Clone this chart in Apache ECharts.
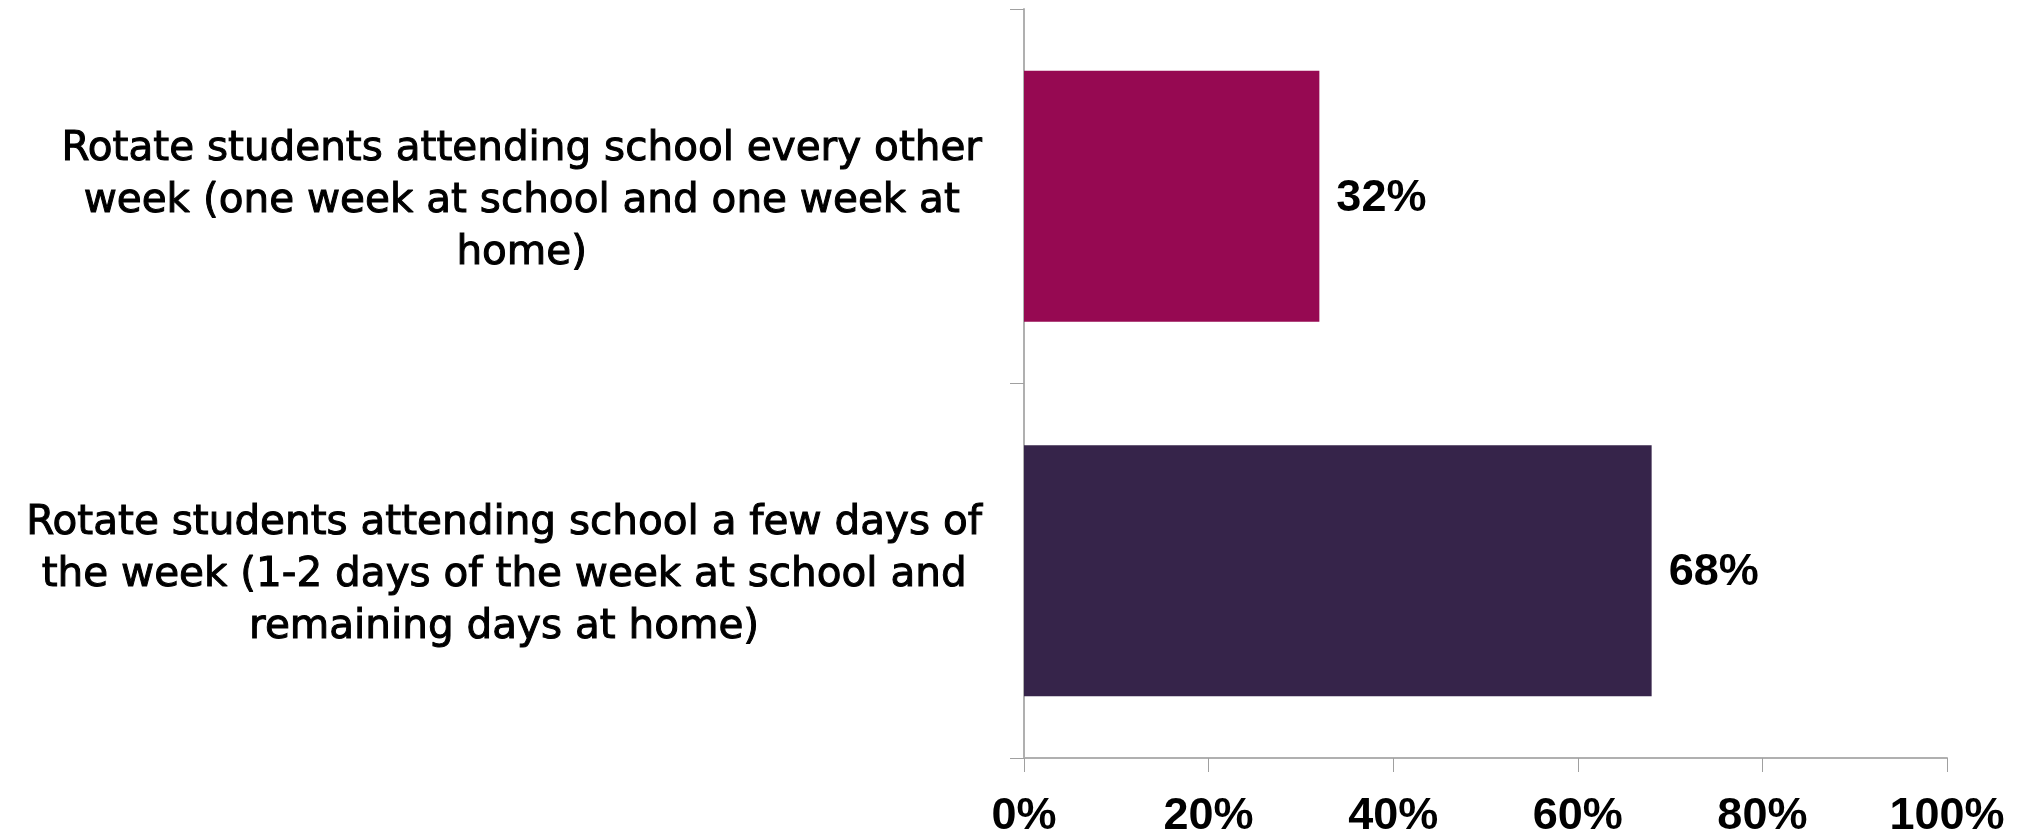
<!DOCTYPE html>
<html>
<head>
<meta charset="utf-8">
<script src="https://cdn.jsdelivr.net/npm/echarts@6/dist/echarts.min.js"></script>
<style>
html,body{margin:0;padding:0;background:#fff;}
#chart{width:2023px;height:839px;}
</style>
</head>
<body>
<div id="chart"></div>
<script>
var categories = [
  "Rotate students attending school every other\nweek (one week at school and one week at\nhome)",
  "Rotate students attending school a few days of\nthe week (1-2 days of the week at school and\nremaining days at home)"
];
var values = [32, 68];
var barColors = ["#960952", "#36244A"];
var xTicks = [0, 20, 40, 60, 80, 100];

var chart = echarts.init(document.getElementById('chart'));
var option = {
  animation: false,
  backgroundColor: '#ffffff',
  grid: { left: 1024, right: 76, top: 9, bottom: 79, containLabel: false },
  xAxis: {
    type: 'value',
    min: xTicks[0],
    max: xTicks[xTicks.length - 1],
    interval: xTicks[1] - xTicks[0],
    axisLine: { show: true, lineStyle: { color: '#b0b0b0', width: 2 } },
    axisTick: { show: true, length: 14, lineStyle: { color: '#a0a0a0', width: 1 } },
    splitLine: { show: false },
    axisLabel: {
      formatter: '{value}%',
      fontSize: 45,
      fontFamily: 'Liberation Sans',
      fontWeight: 'bold',
      color: '#000',
      margin: 36
    }
  },
  yAxis: {
    type: 'category',
    inverse: true,
    data: categories,
    axisLine: { show: true, lineStyle: { color: '#b0b0b0', width: 2 } },
    axisTick: { show: true, length: 14, lineStyle: { color: '#a0a0a0', width: 1 } },
    axisLabel: {
      margin: 42,
      color: '#000',
      fontSize: 40.5,
      fontFamily: 'DejaVu Sans',
      lineHeight: 52,
      padding: [10, 0, 0, 0],
      formatter: function (v) {
        return v.split('\n').map(function (l) { return '{c|' + l + '}'; }).join('\n');
      },
      rich: {
        c: { align: 'center', fontSize: 40.5, fontFamily: 'DejaVu Sans', lineHeight: 52, color: '#000', textBorderColor: '#000', textBorderWidth: 1.0 }
      }
    }
  },
  series: [{
    type: 'bar',
    barCategoryGap: '33%',
    data: values.map(function (v, i) { return { value: v, itemStyle: { color: barColors[i] } }; }),
    label: {
      show: true,
      position: 'right',
      distance: 17,
      offset: [0, 2],
      formatter: '{c}%',
      fontSize: 45,
      fontFamily: 'Liberation Sans',
      fontWeight: 'bold',
      color: '#000'
    }
  }]
};
chart.setOption(option);
</script>
</body>
</html>
